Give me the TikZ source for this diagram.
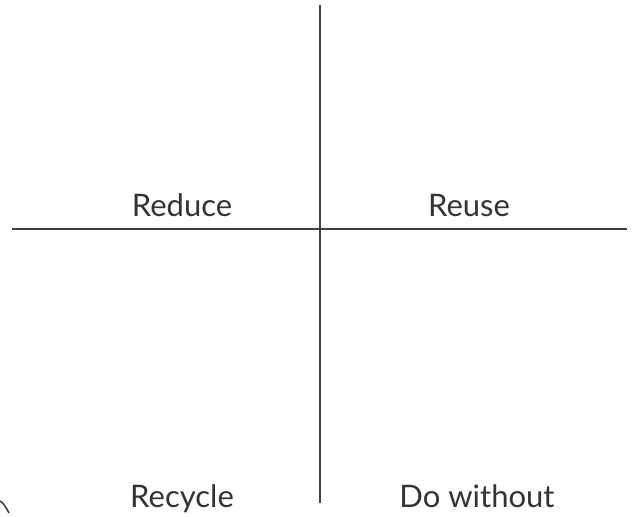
\documentclass[tikz,border=0pt]{standalone}
\usepackage{fontspec}
\setmainfont{Lato}
\tikzset{
	quad/.style={font=\fontsize{15.5}{18}\selectfont,text=black!80,anchor=base,inner sep=0pt},
	axis/.style={draw=black!75,line width=1pt}
}
\begin{document}
\begin{tikzpicture}[x=0.5pt,y=-0.5pt]
	\useasboundingbox (0,0) rectangle (632,516);
	%	\draw[color=gray,dash pattern=on 1pt off 1pt,step=50] (0,0) grid (632,516);
	\coordinate (T) at (319.5,5);
	\coordinate (B) at (319.5,503);
	\coordinate (L) at (12,229);
	\coordinate (R) at (627,229);
	\draw[axis] (T)--(B);
	\draw[axis] (L)--(R);
	\node[quad] (reduce) at (182,216) {Reduce};
	\node[quad] (reuse) at (469,216) {Reuse};
	\node[quad] (recycle) at (182,507) {Recycle};
	\node[quad] (without) at (477,507) {Do without};
	%	corner
	\draw[black!75,line width=0.8pt] (0,501) .. controls (4,504) .. (9,513);
\end{tikzpicture}
\end{document}
